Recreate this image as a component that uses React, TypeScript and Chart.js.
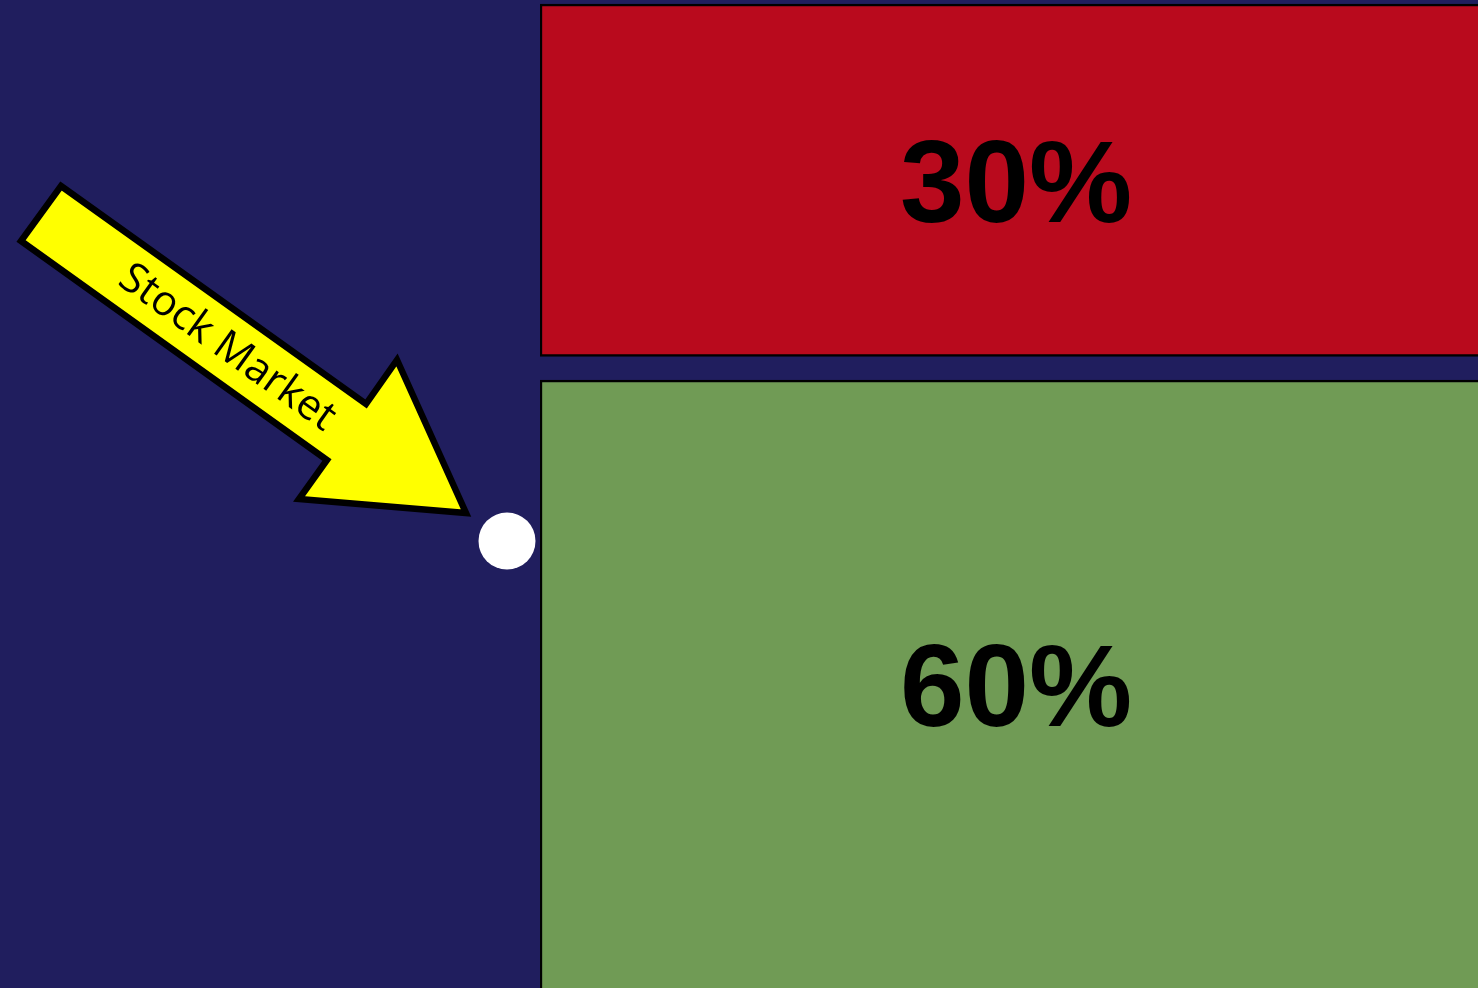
import { useEffect, useRef } from "react";
import { Chart, registerables } from "chart.js";

Chart.register(...registerables);

// ---- data ----
const categoryLabels = ["Portfolio"];
const segmentNames = ["Lower", "Upper"];
const segmentValues = [60, 30]; // green (lower), red (upper)
const segmentTexts = ["60%", "30%"];
const segmentGap = 2;
const stockMarketLevel = 46.3;
const arrowText = "Stock Market";
const axisMin = 8.26;
const axisMax = 92.34;

const NAVY = "#201E5E";
const GREEN = "#709B55";
const RED = "#B90A1D";
const YELLOW = "#FFFF00";

const bgPlugin = {
  id: "bg",
  beforeDraw(chart: any) {
    const { ctx, width, height } = chart;
    ctx.save();
    ctx.fillStyle = NAVY;
    ctx.fillRect(0, 0, width, height);
    ctx.restore();
  },
};

const labelPlugin = {
  id: "segLabels",
  afterDatasetsDraw(chart: any) {
    const { ctx, chartArea } = chart;
    ctx.save();
    ctx.fillStyle = "#000";
    ctx.font = "bold 116px 'Liberation Sans', Arial, sans-serif";
    ctx.textAlign = "center";
    ctx.textBaseline = "middle";
    chart.data.datasets.forEach((ds: any, i: number) => {
      const meta = chart.getDatasetMeta(i);
      meta.data.forEach((el: any) => {
        const top = Math.max(Math.min(el.y, el.base), chartArea.top);
        const bottom = Math.min(Math.max(el.y, el.base), chartArea.bottom);
        ctx.fillText(ds.segText, el.x, (top + bottom) / 2 + 10);
      });
    });
    ctx.restore();
  },
};

const arrowPlugin = {
  id: "arrow",
  afterDraw(chart: any) {
    const { ctx, chartArea, scales } = chart;
    const cy = scales.y.getPixelForValue(stockMarketLevel);
    const cx = chartArea.left - 33;
    ctx.save();
    // marker circle
    ctx.fillStyle = "#FFFFFF";
    ctx.beginPath();
    ctx.arc(cx, cy, 28.5, 0, Math.PI * 2);
    ctx.fill();
    // arrow
    const pts = [
      [61, 186],
      [366, 404],
      [397, 360],
      [466, 513],
      [299, 499],
      [327, 460],
      [21, 241],
    ];
    ctx.beginPath();
    pts.forEach(([x, y], i) => (i === 0 ? ctx.moveTo(x, y) : ctx.lineTo(x, y)));
    ctx.closePath();
    ctx.fillStyle = YELLOW;
    ctx.fill();
    ctx.lineWidth = 6.5;
    ctx.lineJoin = "miter";
    ctx.strokeStyle = "#000";
    ctx.stroke();
    // text
    ctx.translate(227, 348);
    ctx.rotate(Math.atan2(0.582, 0.813));
    ctx.fillStyle = "#000";
    ctx.font = "42px 'Open Sans', sans-serif";
    ctx.textAlign = "center";
    ctx.textBaseline = "middle";
    ctx.fillText(arrowText, 0, 0);
    ctx.restore();
  },
};

export default function App() {
  const ref = useRef<HTMLCanvasElement>(null);

  useEffect(() => {
    if (!ref.current) return;
    const lowerRange = [0, segmentValues[0]];
    const upperRange = [segmentValues[0] + segmentGap, segmentValues[0] + segmentGap + segmentValues[1]];
    const chart = new Chart(ref.current, {
      type: "bar",
      data: {
        labels: categoryLabels,
        datasets: [
          {
            label: segmentNames[0],
            data: [lowerRange as any],
            backgroundColor: GREEN,
            borderColor: "#000",
            borderWidth: 2.5,
            borderSkipped: false,
            categoryPercentage: 1,
            barPercentage: 1,
            segText: segmentTexts[0],
          } as any,
          {
            label: segmentNames[1],
            data: [upperRange as any],
            backgroundColor: RED,
            borderColor: "#000",
            borderWidth: 2.5,
            borderSkipped: false,
            categoryPercentage: 1,
            barPercentage: 1,
            segText: segmentTexts[1],
          } as any,
        ],
      },
      options: {
        responsive: false,
        devicePixelRatio: 1,
        animation: false,
        layout: { padding: { left: 540, right: 0, top: 0, bottom: 0 } },
        plugins: { legend: { display: false }, tooltip: { enabled: false } },
        scales: {
          x: { type: "category", stacked: true, display: false },
          y: { type: "linear", min: axisMin, max: axisMax, display: false },
        },
      },
      plugins: [bgPlugin, labelPlugin, arrowPlugin],
    });
    return () => chart.destroy();
  }, []);

  return (
    <div
      style={{
        position: "fixed",
        left: 0,
        top: 0,
        width: 1478,
        height: 988,
        overflow: "hidden",
        background: NAVY,
      }}
    >
      <canvas ref={ref} width={1492} height={988} style={{ display: "block", width: 1492, height: 988 }} />
    </div>
  );
}
